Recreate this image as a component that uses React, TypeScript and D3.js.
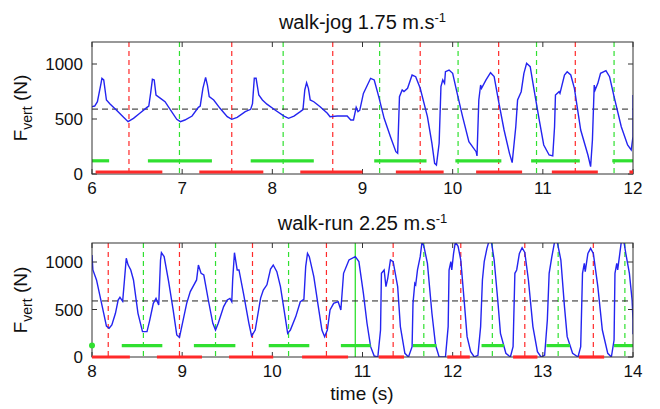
import React from 'react';
import * as d3 from 'd3';

// vertical ground reaction force traces, [time s, force N]
const jogForce: [number, number][] = [
  [6.0, 612], [6.03, 618], [6.06, 657], [6.1, 824], [6.11, 870], [6.13, 855], [6.16, 673], [6.2, 636],
  [6.27, 582], [6.35, 515], [6.4, 476], [6.46, 506], [6.53, 552], [6.61, 606], [6.63, 618], [6.65, 733],
  [6.67, 861], [6.69, 855], [6.71, 718], [6.76, 688], [6.81, 657], [6.87, 582], [6.94, 497], [6.98, 476],
  [7.03, 491], [7.11, 527], [7.18, 606], [7.2, 618], [7.23, 779], [7.26, 879], [7.28, 809], [7.3, 703],
  [7.35, 673], [7.42, 597], [7.5, 521], [7.55, 497], [7.61, 515], [7.7, 567], [7.76, 588], [7.78, 640],
  [7.8, 870], [7.82, 870], [7.85, 718], [7.89, 673], [7.94, 635], [8.03, 582], [8.13, 527], [8.18, 506],
  [8.24, 527], [8.31, 567], [8.34, 585], [8.36, 764], [8.38, 830], [8.4, 779], [8.42, 673], [8.46, 657],
  [8.53, 612], [8.61, 552], [8.64, 521], [8.72, 527], [8.83, 527], [8.87, 491], [8.9, 491], [8.93, 606],
  [8.95, 567], [8.97, 580], [9.01, 733], [9.09, 870], [9.13, 855], [9.18, 703], [9.24, 506], [9.31, 339],
  [9.37, 203], [9.39, 188], [9.41, 703], [9.44, 764], [9.46, 749], [9.5, 779], [9.55, 900], [9.59, 885],
  [9.64, 779], [9.72, 521], [9.77, 279], [9.8, 97], [9.82, 82], [9.85, 279], [9.87, 794], [9.89, 855],
  [9.91, 824], [9.92, 930], [9.96, 945], [10.0, 915], [10.05, 733], [10.11, 521], [10.18, 294], [10.26, 203],
  [10.27, 164], [10.29, 673], [10.31, 809], [10.32, 779], [10.37, 855], [10.42, 921], [10.46, 885], [10.51, 657],
  [10.57, 400], [10.63, 188], [10.66, 103], [10.7, 430], [10.72, 673], [10.76, 748], [10.79, 915], [10.82, 1006],
  [10.86, 976], [10.9, 779], [10.96, 491], [11.01, 264], [11.07, 173], [11.11, 164], [11.13, 430], [11.14, 718],
  [11.18, 748], [11.19, 733], [11.24, 900], [11.27, 930], [11.31, 900], [11.35, 779], [11.42, 400], [11.5, 173],
  [11.53, 67], [11.55, 309], [11.57, 809], [11.58, 764], [11.61, 824], [11.64, 915], [11.7, 939], [11.74, 885],
  [11.79, 703], [11.87, 430], [11.94, 264], [11.98, 218], [12.0, 340], [12.0, 718],
];

const runForce: [number, number][] = [
  [8.0, 1074], [8.01, 916], [8.05, 811], [8.09, 635], [8.13, 460], [8.16, 326], [8.19, 302], [8.22, 337],
  [8.26, 460], [8.29, 600], [8.31, 628], [8.34, 586], [8.36, 811], [8.38, 1039], [8.4, 970], [8.43, 916],
  [8.46, 811], [8.51, 460], [8.56, 267], [8.61, 267], [8.64, 386], [8.68, 565], [8.71, 617], [8.74, 547],
  [8.76, 1021], [8.77, 1098], [8.8, 1057], [8.85, 793], [8.9, 495], [8.94, 232], [8.97, 207], [9.0, 340],
  [9.05, 565], [9.09, 688], [9.12, 740], [9.16, 811], [9.18, 968], [9.21, 880], [9.24, 863], [9.29, 600],
  [9.34, 355], [9.37, 284], [9.4, 355], [9.46, 530], [9.5, 600], [9.53, 617], [9.55, 582], [9.56, 811],
  [9.58, 1098], [9.61, 916], [9.63, 916], [9.68, 670], [9.74, 355], [9.77, 221], [9.81, 284], [9.87, 620],
  [9.9, 705], [9.94, 760], [9.98, 925], [10.01, 968], [10.05, 898], [10.09, 740], [10.13, 495], [10.17, 249],
  [10.2, 284], [10.26, 425], [10.31, 582], [10.35, 607], [10.37, 951], [10.39, 1091], [10.41, 1056], [10.46, 846],
  [10.51, 530], [10.55, 284], [10.58, 214], [10.61, 284], [10.64, 495], [10.68, 565], [10.73, 582], [10.76, 495],
  [10.79, 881], [10.85, 1021], [10.92, 1056], [10.96, 1004], [11.01, 670], [11.05, 355], [11.09, 109], [11.13, 10],
  [11.17, 0], [11.2, 284], [11.21, 881], [11.24, 916], [11.26, 740], [11.28, 828], [11.31, 1021], [11.34, 1004],
  [11.39, 740], [11.42, 320], [11.47, 39], [11.51, 0], [11.55, 109], [11.56, 565], [11.58, 775], [11.59, 760],
  [11.61, 916], [11.64, 1056], [11.66, 1210], [11.68, 1170], [11.72, 986], [11.77, 460], [11.81, 126], [11.85, 0],
  [11.92, 0], [11.95, 320], [11.96, 916], [11.98, 1004], [11.99, 916], [12.01, 1091], [12.03, 1210], [12.06, 1165],
  [12.09, 1021], [12.13, 565], [12.16, 214], [12.2, 56], [12.24, 0], [12.28, 18], [12.31, 320], [12.33, 811],
  [12.35, 1004], [12.38, 1144], [12.4, 1210], [12.43, 1210], [12.46, 1021], [12.5, 600], [12.53, 249], [12.59, 39],
  [12.64, 0], [12.67, 109], [12.69, 881], [12.71, 916], [12.74, 1091], [12.77, 1150], [12.8, 1100], [12.84, 811],
  [12.89, 320], [12.94, 56], [12.98, 0], [13.02, 18], [13.05, 390], [13.07, 881], [13.1, 1056], [13.13, 1210],
  [13.16, 1210], [13.2, 1021], [13.24, 530], [13.27, 214], [13.33, 39], [13.39, 0], [13.42, 109], [13.44, 881],
  [13.46, 986], [13.47, 898], [13.5, 1091], [13.53, 1144], [13.56, 1091], [13.61, 740], [13.66, 284], [13.72, 39],
  [13.76, 0], [13.79, 179], [13.8, 881], [13.82, 986], [13.83, 916], [13.87, 1210], [13.9, 1210], [13.92, 1091],
  [13.96, 881], [13.99, 600], [14.0, 390], [14.0, 240],
];

// event markers (s)
const jogRedSteps = [6.41, 7.55, 8.67, 9.64, 10.51, 11.36];
const jogGreenSteps = [6.97, 8.12, 9.19, 10.06, 10.93, 11.79];
const jogGreenBars: [number, number][] = [[6.0, 6.19], [6.62, 7.33], [7.76, 8.46], [9.13, 9.71], [10.03, 10.54], [10.87, 11.41], [11.77, 12.0]];
const jogRedBars: [number, number][] = [[6.04, 6.78], [7.19, 7.9], [8.31, 9.0], [9.37, 9.9], [10.26, 10.77], [11.1, 11.61], [11.96, 12.0]];

const runRedSteps = [8.18, 8.97, 9.78, 10.6, 11.34, 12.09, 12.8, 13.56];
const runGreenSteps = [8.57, 9.37, 10.18, 11.68, 12.44, 13.17, 13.91];
const runTransition = [10.92];
const runGreenBars: [number, number][] = [[8.33, 8.78], [9.13, 9.59], [9.96, 10.41], [10.76, 11.09], [11.56, 11.82], [12.32, 12.57], [13.04, 13.3], [13.79, 14.0]];
const runRedBars: [number, number][] = [[8.0, 8.42], [8.72, 9.22], [9.52, 10.01], [10.33, 10.84], [11.18, 11.46], [11.94, 12.19], [12.67, 12.94], [13.4, 13.68]];
const runGreenDot: [number, number][] = [[8.0, 120]];

const yTicks = [0, 500, 1000];
const bodyWeight = 590;
const greenLevel = 120;

const FONT = 'Liberation Sans, Arial, sans-serif';
const BLUE = '#2424f0';
const RED = '#ff2a2a';
const GREEN = '#30e030';

const Panel = ({ id, top, bottom, start, title, force, redSteps, greenSteps, solidSteps, redBars, greenBars, redLevel, dots }: any) => {
  const left = 92, right = 633;
  const x = d3.scaleLinear().domain([start, start + 6]).range([left, right]);
  const y = d3.scaleLinear().domain([0, 1200]).range([bottom, top]);
  const line = d3.line<[number, number]>().x(d => x(d[0])).y(d => y(d[1]));
  const xTicks = d3.range(start, start + 7);
  const tk = 5;

  return (
    <g>
      <defs>
        <clipPath id={id}>
          <rect x={left} y={top} width={right - left} height={bottom - top} />
        </clipPath>
      </defs>
      <text x={(left + right) / 2} y={top - 13} textAnchor="middle" fontSize={20} fontFamily={FONT} fill="#111">
        {title}
        <tspan dy={-7} fontSize={13}>-1</tspan>
      </text>

      {redSteps.map((t: number) => (
        <line key={'r' + t} x1={x(t)} x2={x(t)} y1={top} y2={bottom} stroke={RED} strokeWidth={1.2} strokeDasharray="5,4" />
      ))}
      {greenSteps.map((t: number) => (
        <line key={'g' + t} x1={x(t)} x2={x(t)} y1={top} y2={bottom} stroke={GREEN} strokeWidth={1.2} strokeDasharray="5,4" />
      ))}
      {(solidSteps || []).map((t: number) => (
        <line key={'s' + t} x1={x(t)} x2={x(t)} y1={top} y2={bottom} stroke={GREEN} strokeWidth={1.3} />
      ))}
      <line x1={left} x2={right} y1={y(bodyWeight)} y2={y(bodyWeight)} stroke="#222" strokeWidth={1} strokeDasharray="6,4" />

      <path d={line(force) || ''} fill="none" stroke={BLUE} strokeWidth={1.4} clipPath={`url(#${id})`} />

      {greenBars.map((b: [number, number], i: number) => (
        <line key={'gb' + i} x1={x(b[0])} x2={x(b[1])} y1={y(greenLevel)} y2={y(greenLevel)} stroke={GREEN} strokeWidth={3.2} />
      ))}

      <rect x={left} y={top} width={right - left} height={bottom - top} fill="none" stroke="#333" strokeWidth={1} />
      {xTicks.map(t => (
        <g key={'xt' + t}>
          <line x1={x(t)} x2={x(t)} y1={bottom} y2={bottom - tk} stroke="#333" />
          <line x1={x(t)} x2={x(t)} y1={top} y2={top + tk} stroke="#333" />
          <text x={x(t)} y={bottom + 20} textAnchor="middle" fontSize={17} fontFamily={FONT} fill="#111">{t}</text>
        </g>
      ))}
      {yTicks.map(v => (
        <g key={'yt' + v}>
          <line x1={left} x2={left + tk} y1={y(v)} y2={y(v)} stroke="#333" />
          <line x1={right} x2={right - tk} y1={y(v)} y2={y(v)} stroke="#333" />
          <text x={left - 9} y={y(v) + 6} textAnchor="end" fontSize={17} fontFamily={FONT} fill="#111">{v}</text>
        </g>
      ))}

      {redBars.map((b: [number, number], i: number) => (
        <line key={'rb' + i} x1={x(b[0])} x2={x(b[1])} y1={y(redLevel)} y2={y(redLevel)} stroke={RED} strokeWidth={3.2} />
      ))}
      {(dots || []).map((d: [number, number], i: number) => (
        <circle key={'d' + i} cx={x(d[0])} cy={y(d[1])} r={3} fill={GREEN} />
      ))}

      <text transform={`translate(27,${(top + bottom) / 2}) rotate(-90)`} textAnchor="middle" fontSize={19} fontFamily={FONT} fill="#111">
        F<tspan fontSize={14} dy={5}>vert</tspan><tspan dy={-5}> (N)</tspan>
      </text>
    </g>
  );
};

export default function App() {
  return (
    <svg width={660} height={409} style={{ position: 'absolute', left: 0, top: 0, background: '#fff' }}>
      <Panel id="clipJog" top={42} bottom={174} start={6} title="walk-jog 1.75 m.s" force={jogForce}
        redSteps={jogRedSteps} greenSteps={jogGreenSteps} redBars={jogRedBars} greenBars={jogGreenBars} redLevel={18} />
      <Panel id="clipRun" top={243} bottom={357} start={8} title="walk-run 2.25 m.s" force={runForce}
        redSteps={runRedSteps} greenSteps={runGreenSteps} solidSteps={runTransition} redBars={runRedBars}
        greenBars={runGreenBars} redLevel={0} dots={runGreenDot} />
      <text x={362} y={400} textAnchor="middle" fontSize={19} fontFamily={FONT} fill="#111">time (s)</text>
    </svg>
  );
}
